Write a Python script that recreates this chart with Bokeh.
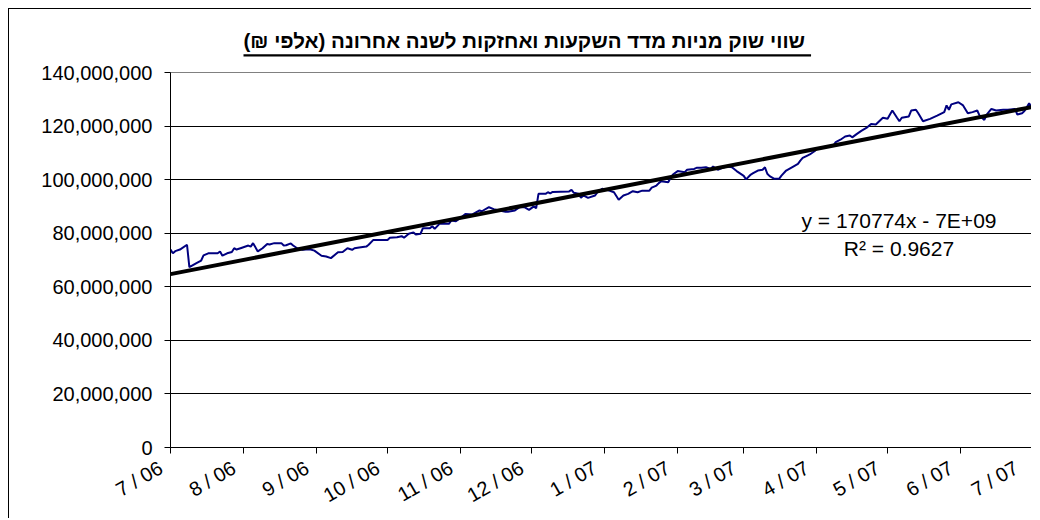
import math
import datetime as dt
from bokeh.plotting import figure
from bokeh.models import (Range1d, NumeralTickFormatter, DatetimeTickFormatter,
                          MonthsTicker, Label, Title, ColumnDataSource, FixedTicker)
from bokeh.embed import file_html
from bokeh.resources import INLINE

# ---------------- data ----------------
title_text = "\u202bשווי שוק מניות מדד השקעות ואחזקות לשנה אחרונה (אלפי ₪)\u202c"
start_date = dt.datetime(2006, 7, 1)
end_date = dt.datetime(2007, 7, 1)

# days since 1 Jul 2006
day_offsets = [
    0, 1, 2, 4, 7, 8, 11, 13, 14, 16, 20, 21, 22, 24, 26, 27, 28, 30, 33, 34,
    35, 37, 39, 41, 42, 44, 47, 48, 49, 51, 52, 54, 56, 59, 61, 64, 66, 68, 71, 73,
    75, 77, 78, 80, 83, 84, 86, 92, 93, 96, 98, 99, 101, 103, 104, 106, 107, 110, 111, 112,
    114, 118, 119, 121, 123, 125, 128, 131, 132, 135, 137, 139, 142, 143, 146, 148, 150, 152, 154, 155,
    156, 159, 160, 161, 162, 169, 170, 171, 173, 174, 175, 177, 180, 181, 183, 185, 186, 188, 190, 192,
    194, 196, 198, 200, 203, 204, 206, 207, 208, 211, 212, 213, 215, 218, 219, 222, 223, 225, 227, 229,
    230, 232, 234, 236, 238, 240, 243, 244, 246, 247, 249, 251, 252, 253, 254, 256, 258, 259, 261, 264,
    266, 267, 268, 270, 271, 273, 274, 276, 278, 281, 282, 284, 286, 288, 289, 291, 293, 295, 297, 299,
    301, 302, 304, 305, 306, 308, 309, 310, 313, 314, 316, 317, 319, 322, 325, 328, 329, 330, 331, 334,
    336, 338, 340, 342, 343, 345, 346, 348, 350, 353, 355, 358, 359, 361, 362, 363, 364, 365,
]
# market value, millions (thousands of NIS shown in full on the axis)
market_value_m = [
    73.9, 72.5, 73.3, 73.9, 75.7, 67.3, 68.8, 69.8, 71.7, 72.5, 72.5, 73.2, 71.6, 72.5, 73.0, 74.4, 73.9, 74.5, 75.4, 75.0,
    76.3, 73.2, 74.4, 76.0, 75.8, 76.3, 76.3, 75.4, 75.5, 76.2, 75.4, 74.2, 73.8, 74.0, 73.5, 71.6, 71.3, 70.7, 72.9, 73.0,
    74.4, 73.8, 74.4, 74.7, 75.0, 75.7, 77.5, 77.5, 78.3, 78.5, 78.9, 78.3, 79.8, 80.3, 79.5, 79.8, 81.9, 81.9, 82.6, 81.6,
    83.5, 83.5, 84.7, 84.5, 85.8, 87.2, 87.0, 88.5, 88.2, 89.7, 89.0, 88.6, 88.0, 88.0, 88.5, 89.7, 89.7, 88.7, 90.0, 89.3,
    94.7, 94.7, 95.3, 94.9, 95.4, 95.6, 96.2, 95.1, 94.7, 93.2, 94.1, 93.2, 94.1, 95.3, 96.6, 96.2, 95.9, 95.3, 92.5, 94.1,
    94.7, 95.7, 95.3, 95.9, 95.9, 97.0, 97.8, 98.7, 99.4, 99.0, 100.7, 101.9, 103.2, 102.8, 103.7, 104.0, 104.4, 104.4, 104.6, 104.0,
    104.9, 103.7, 104.4, 104.9, 104.6, 103.2, 101.4, 100.1, 101.9, 102.4, 103.4, 103.7, 104.6, 102.2, 101.3, 100.3, 100.3, 101.5, 103.4, 104.9,
    105.9, 107.1, 108.1, 109.0, 109.4, 110.6, 111.5, 111.9, 112.4, 112.7, 114.0, 114.9, 116.1, 116.5, 115.8, 117.1, 118.3, 119.3, 120.8, 120.6,
    122.3, 123.1, 122.7, 124.3, 125.8, 123.1, 121.8, 123.1, 123.6, 125.8, 126.1, 124.8, 121.8, 122.7, 123.9, 125.2, 127.7, 126.1, 128.1, 128.9,
    127.7, 124.8, 125.2, 125.8, 123.9, 122.3, 124.3, 126.4, 125.8, 126.1, 126.1, 126.4, 124.3, 124.8, 125.6, 127.0, 128.5, 127.0,
]

# Excel linear trendline (x = Excel serial date)
trend_slope = 170774.0
trend_intercept = -6.5782e9
equation_text = "y = 170774x - 7E+09"
r2_text = "R² = 0.9627"

y_ticks = [0, 20e6, 40e6, 60e6, 80e6, 100e6, 120e6, 140e6]

# ---------------- build ----------------
dates = [start_date + dt.timedelta(days=d) for d in day_offsets]
values = [v * 1e6 for v in market_value_m]
src = ColumnDataSource(dict(x=dates, y=values))

excel_epoch = dt.datetime(1899, 12, 30)
trend_x = [dates[0], dates[-1]]
trend_y = [trend_slope * (d - excel_epoch).days + trend_intercept for d in trend_x]

FONT = "Liberation Sans"
W, H = 1023, 510

p = figure(width=W, height=H, output_backend="svg", toolbar_location=None,
           x_axis_type="datetime",
           x_range=Range1d(start_date, end_date), y_range=Range1d(0, 140e6),
           min_border_left=161, min_border_right=1, min_border_top=63, min_border_bottom=72)
p.styles = {"margin-left": "8px", "margin-top": "8px",
            "border-left": "1px solid black", "border-top": "1px solid black"}

p.background_fill_color = "white"
p.border_fill_color = "white"
p.outline_line_color = "#808080"
p.outline_line_width = 1

p.xgrid.visible = False
p.ygrid.grid_line_color = "black"
p.ygrid.grid_line_width = 1
p.yaxis.ticker = FixedTicker(ticks=y_ticks)
p.yaxis.formatter = NumeralTickFormatter(format="0,0")
p.xaxis.ticker = MonthsTicker(months=list(range(1, 13)))
fmt = "%-m / %y\u00a0\u00a0"
p.xaxis.formatter = DatetimeTickFormatter(days=fmt, months=fmt, years=fmt, hours=fmt,
                                          minutes=fmt, seconds=fmt, milliseconds=fmt,
                                          microseconds=fmt, minsec=fmt, hourmin=fmt)
p.xaxis.major_label_orientation = math.pi / 6

for ax in (p.xaxis[0], p.yaxis[0]):
    ax.axis_line_color = "black"
    ax.axis_line_width = 1
    ax.major_tick_line_color = "black"
    ax.major_tick_in = 0
    ax.major_tick_out = 6
    ax.minor_tick_line_color = None
    ax.major_label_text_font = FONT
    ax.major_label_text_color = "black"
p.yaxis.major_label_text_font_size = "20px"
p.xaxis.major_label_text_font_size = "20px"
p.yaxis.major_label_standoff = 12
p.xaxis.major_label_standoff = 7

p.line("x", "y", source=src, line_color="#000080", line_width=2)
p.line(trend_x, trend_y, line_color="black", line_width=4)

p.add_layout(Label(x=728.5, y=227, x_units="screen", y_units="screen", text=equation_text,
                   text_align="center", text_baseline="middle",
                   text_font=FONT, text_font_size="21px", text_color="black"))
p.add_layout(Label(x=728.5, y=199, x_units="screen", y_units="screen", text=r2_text,
                   text_align="center", text_baseline="middle",
                   text_font=FONT, text_font_size="21px", text_color="black"))

# underline bar (closest to the frame), then the title above it
underline = Title(text="\u00a0", text_font_size="2px", align="left", offset=73,
                  standoff=32, background_fill_color="black",
                  padding=dict(left=0, right=567, top=0, bottom=0))
p.add_layout(underline, "above")

p.title.text = title_text
p.title.align = "left"
p.title.offset = 73
p.title.standoff = -30
p.title.text_font = FONT
p.title.text_font_size = "20.5px"
p.title.text_font_style = "bold"
p.title.text_color = "black"

open("out.html", "w").write(file_html(p, INLINE))
